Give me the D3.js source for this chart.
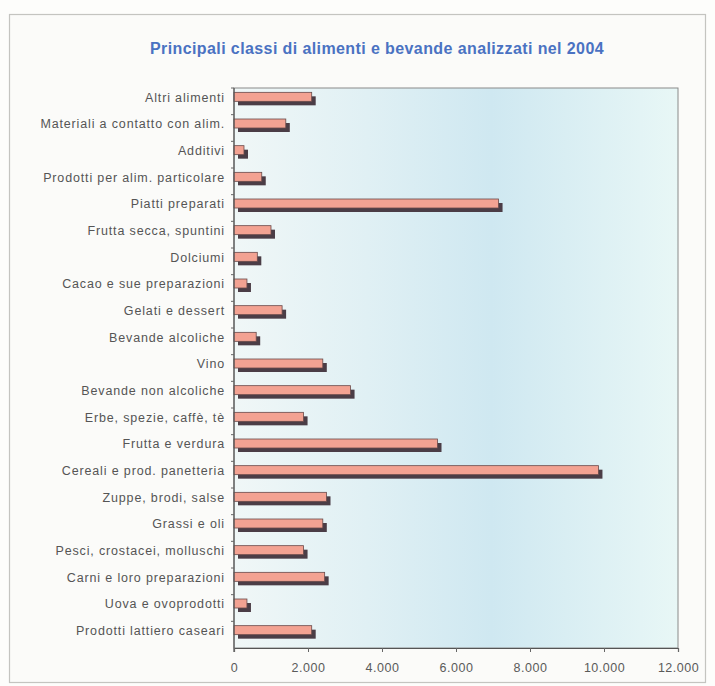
<!DOCTYPE html>
<html>
<head>
<meta charset="utf-8">
<script src="https://cdn.jsdelivr.net/npm/d3@7"></script>
<style>
  html, body { margin: 0; padding: 0; background: #fdfdfb; }
  svg { display: block; }
  text { font-family: "Liberation Sans", Arial, sans-serif; }
</style>
</head>
<body>
<svg id="chart" width="715" height="686"></svg>
<script>
// Food classes analysed in 2004 (number of samples)
const categories = [
  "Altri alimenti",
  "Materiali a contatto con alim.",
  "Additivi",
  "Prodotti per alim. particolare",
  "Piatti preparati",
  "Frutta secca, spuntini",
  "Dolciumi",
  "Cacao e sue preparazioni",
  "Gelati e dessert",
  "Bevande alcoliche",
  "Vino",
  "Bevande non alcoliche",
  "Erbe, spezie, caffè, tè",
  "Frutta e verdura",
  "Cereali e prod. panetteria",
  "Zuppe, brodi, salse",
  "Grassi e oli",
  "Pesci, crostacei, molluschi",
  "Carni e loro preparazioni",
  "Uova e ovoprodotti",
  "Prodotti lattiero caseari"
];
const samples = [
  2100, 1400, 270, 750, 7150, 1000, 630, 350, 1300, 600,
  2400, 3150, 1880, 5500, 9850, 2500, 2400, 1880, 2450, 350, 2100
];
const xTicks = [0, 2000, 4000, 6000, 8000, 10000, 12000];
const title = "Principali classi di alimenti e bevande analizzati nel 2004";

const svg = d3.select("#chart");
const plot = { left: 234, right: 678, top: 88, bottom: 648 };

const x = d3.scaleLinear().domain([0, 12000]).range([plot.left, plot.right]);
const y = d3.scaleBand().domain(categories).range([plot.top, plot.bottom]).padding(0);

const defs = svg.append("defs");
const grad = defs.append("linearGradient").attr("id", "wall")
  .attr("x1", "0%").attr("x2", "100%").attr("y1", "0%").attr("y2", "0%");
grad.append("stop").attr("offset", "0%").attr("stop-color", "#f0f7f7");
grad.append("stop").attr("offset", "30%").attr("stop-color", "#e0f0f4");
grad.append("stop").attr("offset", "58%").attr("stop-color", "#cfe8f1");
grad.append("stop").attr("offset", "100%").attr("stop-color", "#e8f7f6");

// outer frame
svg.append("rect")
  .attr("x", 9.5).attr("y", 14.5).attr("width", 696).attr("height", 668)
  .attr("fill", "#fbfbf9").attr("stroke", "#c4c4c0").attr("stroke-width", 1.2);

// title
svg.append("text")
  .attr("x", 377).attr("y", 54)
  .attr("text-anchor", "middle")
  .attr("font-size", 16).attr("font-weight", "bold")
  .attr("letter-spacing", 0.4)
  .attr("fill", "#4a72c2")
  .text(title);

// plot wall
svg.append("rect")
  .attr("x", plot.left).attr("y", plot.top)
  .attr("width", plot.right - plot.left).attr("height", plot.bottom - plot.top)
  .attr("fill", "url(#wall)")
  .attr("stroke", "#8a8a8a").attr("stroke-width", 1);

// bars: dark depth face offset behind a salmon front face
const barH = 9, depth = 4;
const bars = svg.append("g");
categories.forEach((c, i) => {
  const cy = y(c) + y.bandwidth() / 2;
  bars.append("rect")
    .attr("x", x(0) + depth).attr("y", cy - barH + depth)
    .attr("width", x(samples[i]) - x(0)).attr("height", barH)
    .attr("fill", "#4b3d46");
  bars.append("rect")
    .attr("x", x(0)).attr("y", cy - barH)
    .attr("width", x(samples[i]) - x(0)).attr("height", barH)
    .attr("fill", "#f3a292").attr("stroke", "#6a4a4a").attr("stroke-width", 0.8);
});

// y axis
const yAxis = svg.append("g").attr("transform", `translate(${plot.left},0)`);
yAxis.append("line")
  .attr("x1", 0).attr("x2", 0).attr("y1", plot.top).attr("y2", plot.bottom + 4)
  .attr("stroke", "#555").attr("stroke-width", 1.2);
categories.forEach((c, i) => {
  yAxis.append("line")
    .attr("x1", -3).attr("x2", 0)
    .attr("y1", y(c)).attr("y2", y(c))
    .attr("stroke", "#666");
  yAxis.append("text")
    .attr("x", -9).attr("y", y(c) + y.bandwidth() / 2 - 4)
    .attr("dy", "0.35em")
    .attr("text-anchor", "end")
    .attr("font-size", 12.5)
    .attr("letter-spacing", 0.85)
    .attr("fill", "#555")
    .text(c);
});

// x axis
const xAxis = svg.append("g")
  .attr("transform", `translate(0,${plot.bottom})`)
  .call(d3.axisBottom(x).tickValues(xTicks).tickSize(4)
    .tickFormat(d => d3.format(",")(d).replace(/,/g, ".")));
xAxis.select(".domain").attr("stroke", "#555").attr("stroke-width", 1.2);
xAxis.selectAll(".tick line").attr("stroke", "#666");
xAxis.selectAll(".tick text")
  .attr("y", 15)
  .attr("font-size", 12.5)
  .attr("letter-spacing", 0.5)
  .attr("font-family", "'Liberation Sans', Arial, sans-serif")
  .attr("fill", "#5a5a5a");
</script>
</body>
</html>
